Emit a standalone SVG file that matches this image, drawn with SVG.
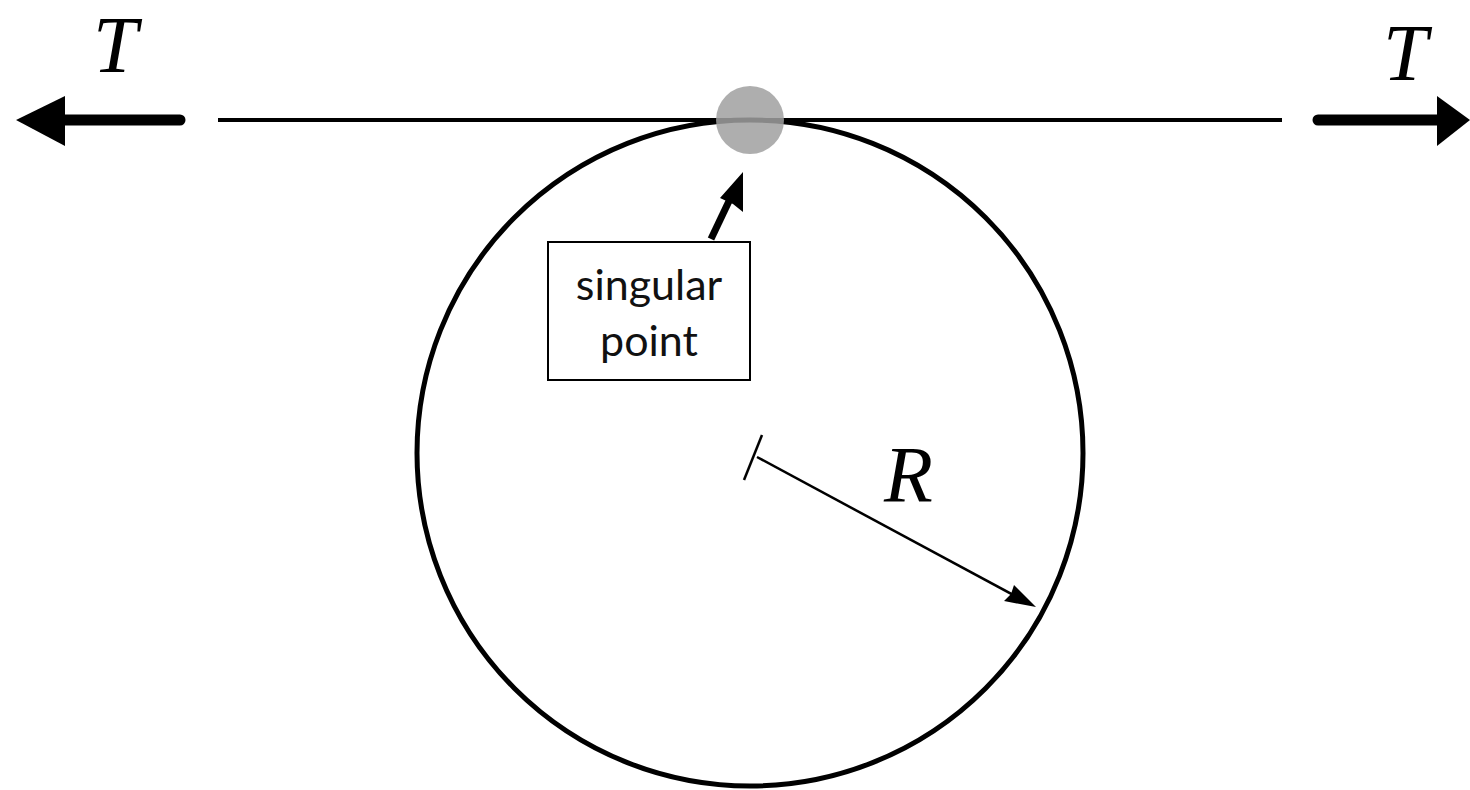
<svg xmlns="http://www.w3.org/2000/svg" width="1470" height="790" viewBox="0 0 1470 790">
<style>
.math{font-family:"Liberation Serif","DejaVu Serif",serif;font-style:italic;font-size:80px;fill:#000}
.lbl{font-family:Lato,"Open Sans",sans-serif;font-size:43px;fill:#111;text-anchor:middle}
</style>
<rect width="1470" height="790" fill="#fff"/>
<g id="circle">
<circle cx="750" cy="453" r="333" fill="none" stroke="#000" stroke-width="5"/>
</g>
<g id="string">
<line x1="218" y1="120" x2="1282" y2="120" stroke="#000" stroke-width="4"/>
</g>
<g id="singular-dot">
<circle cx="750" cy="120" r="34" fill="#a0a0a0" opacity="0.85"/>
</g>
<g id="connectors">
<line x1="60" y1="120" x2="180" y2="120" stroke="#000" stroke-width="11" stroke-linecap="round"/>
<path d="M16,120 L65,96 L65,146 Z" fill="#000"/>
<line x1="1318" y1="120" x2="1440" y2="120" stroke="#000" stroke-width="11" stroke-linecap="round"/>
<path d="M1470,120 L1437,96 L1437,146 Z" fill="#000"/>
<line x1="711" y1="239" x2="730" y2="199" stroke="#000" stroke-width="7"/>
<path d="M743,172 L743,212 L733,204 L720,198 Z" fill="#000"/>
<line x1="762" y1="435" x2="744" y2="480" stroke="#000" stroke-width="2.5"/>
<line x1="757" y1="457" x2="1030" y2="604" stroke="#000" stroke-width="2.5"/>
<path d="M1036,607 L1004,601 L1011,594 L1014,585 Z" fill="#000"/>
</g>
<g id="label-T-left"><text class="math" x="93" y="72">T</text></g>
<g id="label-T-right"><text class="math" x="1383" y="80">T</text></g>
<g id="label-R"><text class="math" x="884" y="502">R</text></g>
<g id="singular-box">
<rect x="548" y="242" width="202" height="138" fill="#fff" stroke="#000" stroke-width="2"/>
<text class="lbl" x="649" y="300">singular</text>
<text class="lbl" x="649" y="356">point</text>
</g>
</svg>
